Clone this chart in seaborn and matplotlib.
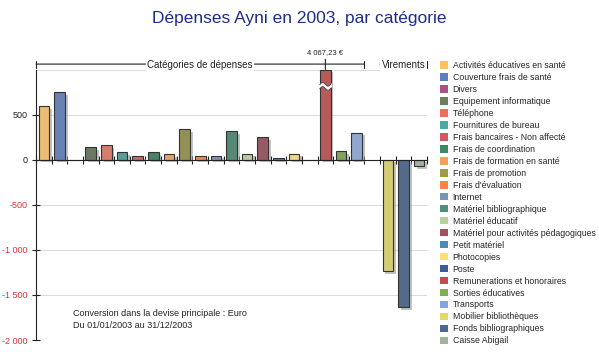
import numpy as np
import pandas as pd
import matplotlib
matplotlib.use("Agg")
import matplotlib.pyplot as plt
import matplotlib.patheffects as pe
import matplotlib.transforms as mtransforms
from matplotlib.patches import Patch, Polygon
import seaborn as sns

# ==========================================
# DATA
# ==========================================

categories = [
    "Activités éducatives en santé",
    "Couverture frais de santé",
    "Divers",
    "Equipement informatique",
    "Téléphone",
    "Fournitures de bureau",
    "Frais bancaires - Non affecté",
    "Frais de coordination",
    "Frais de formation en santé",
    "Frais de promotion",
    "Frais d'évaluation",
    "Internet",
    "Matériel bibliographique",
    "Matériel éducatif",
    "Matériel pour activités pédagogiques",
    "Petit matériel",
    "Photocopies",
    "Poste",
    "Remunerations et honoraires",
    "Sorties éducatives",
    "Transports",
    "Mobilier bibliothèques",
    "Fonds bibliographiques",
    "Caisse Abigail",
]

montants = [
    595, 745, 0, 140, 158, 80, 36, 88, 62, 340, 36, 44,
    320, 66, 250, 22, 66, 0, 4067.23, 99, 300,
    -1240, -1635, -75,
]

groupes = ["Catégories de dépenses"] * 21 + ["Virements"] * 3

colors = [
    "#FFC060", "#5A80C0", "#A8507E", "#6B7D5E", "#E8705C", "#4FA8A0",
    "#D05A64", "#3E8A68", "#F0A262", "#9E9A4C", "#FF8444", "#7A92B8",
    "#4E9078", "#B8D09C", "#A0505E", "#4A8AB8", "#FFE078", "#3A5E98",
    "#C84A4A", "#80AE52", "#86A4DA", "#E2DA66", "#4A6A92", "#A2B29C",
]

yticks = [500, 0, -500, -1000, -1500, -2000]
ytick_labels = ["500", "0", "-500", "-1 000", "-1 500", "-2 000"]

df = pd.DataFrame({"categorie": categories, "montant": montants, "groupe": groupes})
palette = dict(zip(categories, colors))

# empty slot between the two groups
order = []
for g in ["Catégories de dépenses", "Virements"]:
    if order:
        order.append(" ")
    order += list(df.loc[df["groupe"] == g, "categorie"])

# ==========================================
# PLOT
# ==========================================

sns.set_style("white")
plt.rcParams["font.family"] = ["Liberation Sans", "DejaVu Sans"]

fig = plt.figure(figsize=(5.99, 3.58), dpi=100)
ax = fig.add_axes([36 / 599, 18 / 358, 391 / 599, 270.5 / 358])

sns.barplot(
    data=df,
    x="categorie",
    y="montant",
    hue="categorie",
    order=order,
    hue_order=categories,
    palette=palette,
    dodge=False,
    legend=False,
    width=0.68,
    edgecolor="#333333",
    linewidth=0.8,
    errorbar=None,
    ax=ax,
)

ymin, ymax = -2000, 1000
ax.set_ylim(ymin, ymax)
ax.set_xlim(-0.5, len(order) - 0.5)

# shadows + clip the tall bar at the top of the axis
big_bar = None
for p in ax.patches:
    p.set_path_effects([
        pe.SimplePatchShadow(offset=(2, -2), shadow_rgbFace="#9a9a9a", alpha=0.6),
        pe.Normal(),
    ])
    if p.get_height() > ymax:
        big_bar = p
        p.set_height(ymax)

# grid
for y in yticks + [ymax]:
    if y != 0:
        ax.axhline(y, color="#dcdcdc", lw=0.8, zorder=0)

# axes / ticks
sns.despine(ax=ax, top=True, right=True)
ax.spines["bottom"].set_position(("data", 0))
ax.spines["bottom"].set_color("#222222")
ax.spines["left"].set_color("#222222")
ax.set_xticks(np.arange(-0.5, len(order), 1))
ax.set_xticklabels([])
ax.tick_params(axis="x", bottom=True, direction="inout", length=6, width=0.8,
               color="#222222")
ax.set_yticks(yticks)
ax.set_yticklabels(ytick_labels)
ax.tick_params(axis="y", left=True, direction="inout", length=6, width=0.8,
               color="#222222", labelsize=6.5, pad=3)
for lab, val in zip(ax.get_yticklabels(), yticks):
    lab.set_color("#E0303A" if val < 0 else "#222222")
ax.set_xlabel("")
ax.set_ylabel("")

# break marker on the clipped bar + real value
if big_bar is not None:
    x0 = big_bar.get_x()
    x1 = x0 + big_bar.get_width()
    xs = np.linspace(x0 - 0.08, x1 + 0.08, 30)
    t = (xs - x0) / (x1 - x0)
    low = 790 + 20 * np.sin(t * np.pi * 2)
    high = low + 45
    poly = Polygon(np.column_stack([np.r_[xs, xs[::-1]], np.r_[low, high[::-1]]]),
                   closed=True, facecolor="white", edgecolor="none", zorder=5)
    ax.add_patch(poly)
    ax.plot(xs[2:-2], low[2:-2], color="#444444", lw=0.6, zorder=6)
    ax.plot(xs[2:-2], high[2:-2], color="#444444", lw=0.6, zorder=6)
    trans = mtransforms.blended_transform_factory(ax.transData, ax.transAxes)
    xc = x0 + big_bar.get_width() / 2
    val = df.loc[df["montant"] > ymax, "montant"].iloc[0]
    txt = f"{val:,.2f}".replace(",", " ").replace(".", ",") + " €"
    ax.annotate(txt, xy=(xc, 1.0), xycoords=trans, xytext=(xc, 1.05),
                textcoords=trans, ha="center", va="bottom", fontsize=5.5,
                color="#222222", annotation_clip=False,
                arrowprops=dict(arrowstyle="-", color="#222222", lw=0.8,
                                shrinkA=0, shrinkB=0))

# group brackets
trans = mtransforms.blended_transform_factory(ax.transData, ax.transAxes)
for g in ["Catégories de dépenses", "Virements"]:
    idx = [order.index(c) for c in df.loc[df["groupe"] == g, "categorie"]]
    left, right = min(idx) - 0.5, max(idx) + 0.5
    ax.annotate("", xy=(left, 1.02), xycoords=trans, xytext=(right, 1.02),
                textcoords=trans, annotation_clip=False,
                arrowprops=dict(arrowstyle="|-|, widthA=0.25, widthB=0.25",
                                color="#222222", lw=0.8, shrinkA=0, shrinkB=0))
    ax.text((left + right) / 2, 1.015, g, transform=trans, ha="center",
            va="center", fontsize=7, color="#222222",
            bbox=dict(facecolor="white", edgecolor="none", pad=1.0))

# title
fig.text(0.5, 1 - 18 / 358, "Dépenses Ayni en 2003, par catégorie", ha="center",
         va="center", fontsize=12.5, color="#1E2C8C")

# caption
fig.text(73 / 599, 1 - 314 / 358, "Conversion dans la devise principale : Euro",
         ha="left", va="center", fontsize=6.5, color="#222222")
fig.text(73 / 599, 1 - 326 / 358, "Du 01/01/2003 au 31/12/2003",
         ha="left", va="center", fontsize=6.5, color="#222222")

# legend
handles = [Patch(facecolor=palette[c], edgecolor="none") for c in categories]
fig.legend(handles, categories, loc="upper left",
           bbox_to_anchor=(440 / 599, 1 - 61 / 358), frameon=False,
           fontsize=6.3, handlelength=0.95, handleheight=0.95, handletextpad=0.5,
           labelspacing=0.34, borderpad=0, borderaxespad=0)

plt.savefig("out.png", dpi=100)
plt.close()
